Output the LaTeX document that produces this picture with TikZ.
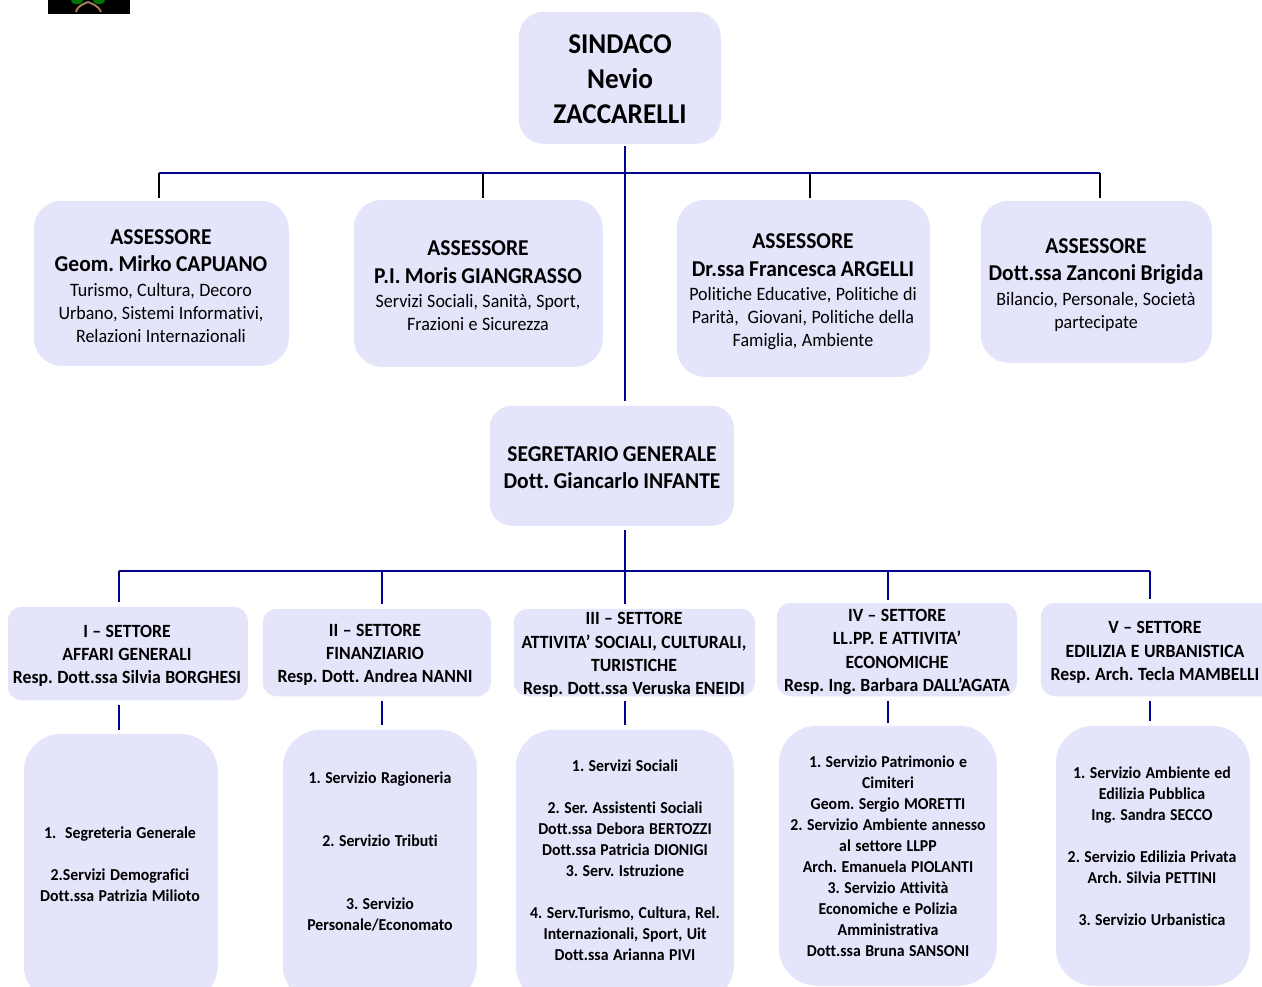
\documentclass[tikz,border=0pt]{standalone}
\usepackage{fontspec}
\setmainfont{Carlito}[FakeStretch=0.95,Ligatures=NoCommon]
\definecolor{boxfill}{HTML}{E4E4FB}
\definecolor{navy}{HTML}{00008C}
\newcommand{\Hd}[1]{{\fontsize{17}{20.4}\selectfont\bfseries #1\par}}
\newcommand{\Bod}[1]{{\vspace{1.2pt}\fontsize{14.2}{17.25}\selectfont #1\par}}
\newcommand{\Sec}[1]{{\fontsize{14}{17.4}\selectfont\bfseries #1\par}}
\newcommand{\Lst}[1]{{\fontsize{12.5}{15.75}\selectfont\bfseries #1\par}}
\tikzset{
 x=0.75pt,y=-0.75pt,
 panel/.style={fill=boxfill,draw=none},
 lbl/.style={align=center,text width=240pt,inner sep=0pt,text=black,font=\frenchspacing},
 bus/.style={draw=navy,line width=1.3pt},
 drop/.style={draw=black,line width=0.8pt},
}
\newcommand{\pn}[6]{\node[panel,rounded corners=#6*0.75pt,minimum width=(#4-#2)*0.75pt,minimum height=(#5-#3)*0.75pt,inner sep=0pt,anchor=north west] (#1) at (#2,#3) {};}
\begin{document}
\begin{tikzpicture}
\useasboundingbox (0,0) rectangle (1262,987);
\clip (0,0) rectangle (1262,987);
% logo
\fill[black] (48,0) rectangle (130,14);
\fill[green!45!black] (77,1) ellipse (6 and 3) (99,1) ellipse (6 and 3);
\draw[brown!60!gray,line width=1.4pt] (88,2) .. controls (84,4) and (78,5) .. (76,12) (88,2) .. controls (92,4) and (98,5) .. (101,12);
\pn{sindaco}{518.5}{11.5}{720.5}{143.5}{25}
\node[lbl] (tsindaco) at (620,79) {\fontsize{21.5}{26.25}\selectfont\bfseries SINDACO\\Nevio\\ZACCARELLI\par};
\pn{a1}{33.5}{200.5}{288.5}{365.5}{28}
\pn{a2}{353.5}{199.5}{602.5}{366.5}{28}
\pn{a3}{676.5}{199.5}{929.5}{376.5}{28}
\pn{a4}{980.5}{200.5}{1211.5}{362.5}{28}
\node[lbl] (ta1) at (161,286) {\Hd{ASSESSORE\\Geom. Mirko CAPUANO}\Bod{Turismo, Cultura, Decoro\\Urbano, Sistemi Informativi,\\Relazioni Internazionali}};
\node[lbl] (ta2) at (478,286) {\Hd{ASSESSORE\\P.I. Moris GIANGRASSO}\Bod{Servizi Sociali, Sanità, Sport,\\Frazioni e Sicurezza}};
\node[lbl] (ta3) at (803,292) {\Hd{ASSESSORE\\Dr.ssa Francesca ARGELLI}\Bod{Politiche Educative, Politiche di\\Parità,~ Giovani, Politiche della\\Famiglia, Ambiente}};
\node[lbl] (ta4) at (1096,285) {\Hd{ASSESSORE\\Dott.ssa Zanconi Brigida}\Bod{Bilancio, Personale, Società\\partecipate}};
\pn{seg}{489.5}{405.5}{733.5}{525.5}{22}
\node[lbl] (tseg) at (612,468) {\Hd{SEGRETARIO GENERALE\\Dott. Giancarlo INFANTE}};
\pn{s1}{7.5}{606.5}{247.5}{700}{14}
\pn{s2}{262.5}{608.5}{490.5}{696}{14}
\pn{s3}{513.5}{608.5}{754.5}{696}{14}
\pn{s4}{776.5}{602.5}{1016.5}{696}{14}
\pn{s5}{1040.5}{602.5}{1275}{696}{14}
\node[lbl] (ts1) at (127,656) {\Sec{I – SETTORE\\AFFARI GENERALI\\Resp. Dott.ssa Silvia BORGHESI}};
\node[lbl] (ts2) at (375,655) {\Sec{II – SETTORE\\FINANZIARIO\\Resp. Dott. Andrea NANNI}};
\node[lbl] (ts3) at (634,655) {\Sec{III – SETTORE\\ATTIVITA’ SOCIALI, CULTURALI,\\TURISTICHE\\Resp. Dott.ssa Veruska ENEIDI}};
\node[lbl] (ts4) at (897,652) {\Sec{IV – SETTORE\\LL.PP. E ATTIVITA’\\ECONOMICHE\\Resp. Ing. Barbara DALL’AGATA}};
\node[lbl] (ts5) at (1155,652.5) {\Sec{V – SETTORE\\EDILIZIA E URBANISTICA\\Resp. Arch. Tecla MAMBELLI}};
\pn{b1}{23.5}{733.5}{217.5}{1003}{38}
\pn{b2}{282.5}{729.5}{476.5}{1003}{38}
\pn{b3}{515.5}{729.5}{733.5}{1003}{38}
\pn{b4}{778.5}{725.5}{996.5}{985.5}{38}
\pn{b5}{1055.5}{725.5}{1249.5}{985.5}{38}
\node[lbl] (tb1) at (120,864) {\Lst{1.~ Segreteria Generale\\[15.75pt]2.Servizi Demografici\\Dott.ssa Patrizia Milioto}};
\node[lbl] (tb2) at (380,852) {\Lst{1. Servizio Ragioneria\\[31.5pt]2. Servizio Tributi\\[31.5pt]3. Servizio\\Personale/Economato}};
\node[lbl] (tb3) at (625,860) {\Lst{1. Servizi Sociali\\[15.75pt]2. Ser. Assistenti Sociali\\Dott.ssa Debora BERTOZZI\\Dott.ssa Patricia DIONIGI\\3. Serv. Istruzione\\[15.75pt]4. Serv.Turismo, Cultura, Rel.\\Internazionali, Sport, Uit\\Dott.ssa Arianna PIVI}};
\node[lbl] (tb4) at (888,856) {\Lst{1. Servizio Patrimonio e\\Cimiteri\\Geom. Sergio MORETTI\\2. Servizio Ambiente annesso\\al settore LLPP\\Arch. Emanuela PIOLANTI\\3. Servizio Attività\\Economiche e Polizia\\Amministrativa\\Dott.ssa Bruna SANSONI}};
\node[lbl] (tb5) at (1152,846) {\Lst{1. Servizio Ambiente ed\\Edilizia Pubblica\\Ing. Sandra SECCO\\[15.75pt]2. Servizio Edilizia Privata\\Arch. Silvia PETTINI\\[15.75pt]3. Servizio Urbanistica}};
% connectors
\coordinate (top1) at (625,146);
\coordinate (top2) at (625,401);
\coordinate (ja1) at (159,173);\coordinate (ea1) at (159,198);
\coordinate (ja2) at (483,173);\coordinate (ea2) at (483,198);
\coordinate (ja3) at (810,173);\coordinate (ea3) at (810,198);
\coordinate (ja4) at (1100,173);\coordinate (ea4) at (1100,198);
\draw[drop] (ja1)--(ea1) (ja2)--(ea2) (ja3)--(ea3) (ja4)--(ea4);
\draw[bus] (top1)--(top2);
\draw[bus] (ja1)--(ja4);
\coordinate (m1) at (625,530);
\coordinate (m2) at (625,604);
\coordinate (js1) at (119,571);\coordinate (es1) at (119,602);
\coordinate (js2) at (382,571);\coordinate (es2) at (382,604);
\coordinate (js4) at (888,571);\coordinate (es4) at (888,600);
\coordinate (js5) at (1150,571);\coordinate (es5) at (1150,599);
\draw[bus] (m1)--(m2);
\draw[bus] (js1)--(js5);
\draw[bus] (js1)--(es1);
\draw[bus] (js2)--(es2);
\draw[bus] (js4)--(es4);
\draw[bus] (js5)--(es5);
\coordinate (c1a) at (119,705);\coordinate (c1b) at (119,730);
\coordinate (c2a) at (382,701);\coordinate (c2b) at (382,725);
\coordinate (c3a) at (625,701);\coordinate (c3b) at (625,725);
\coordinate (c4a) at (888,701);\coordinate (c4b) at (888,723);
\coordinate (c5a) at (1150,701);\coordinate (c5b) at (1150,721);
\draw[bus] (c1a)--(c1b);
\draw[bus] (c2a)--(c2b);
\draw[bus] (c3a)--(c3b);
\draw[bus] (c4a)--(c4b);
\draw[bus] (c5a)--(c5b);
\end{tikzpicture}
\end{document}
